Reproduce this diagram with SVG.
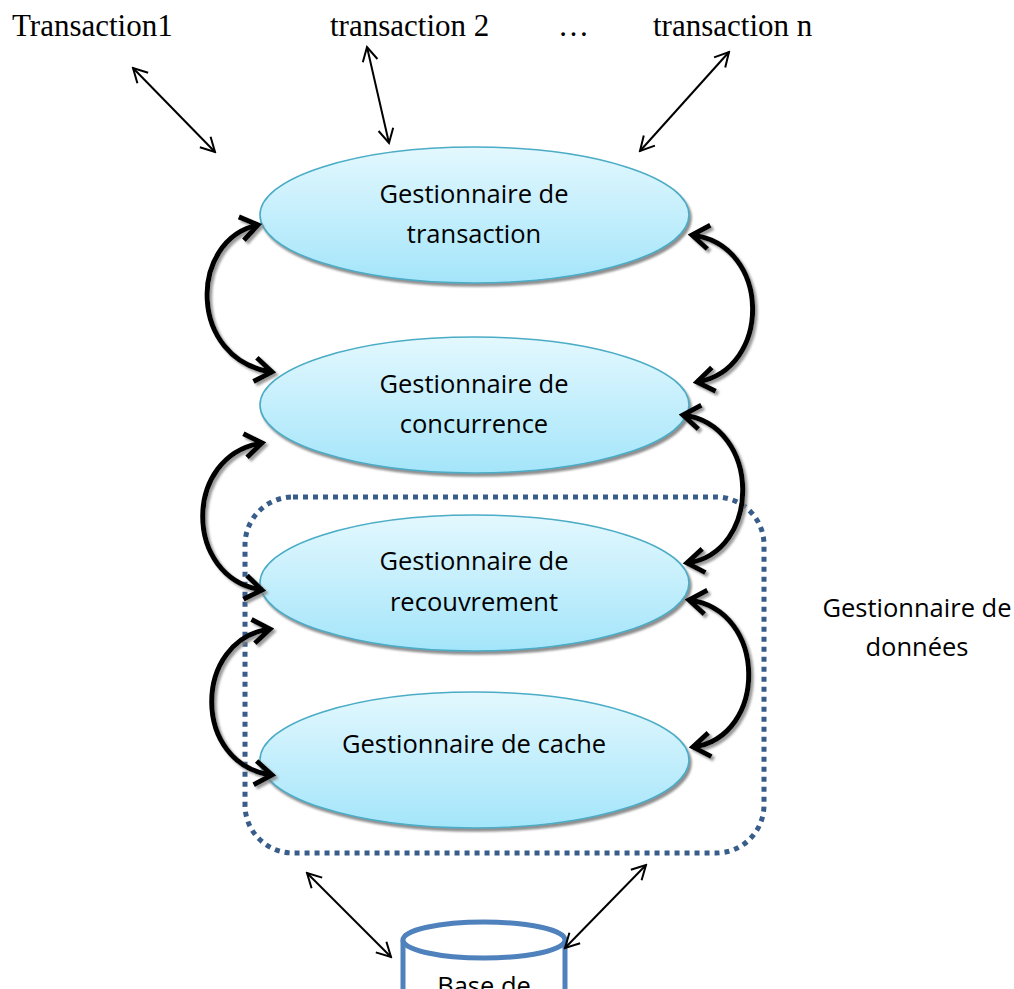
<svg xmlns="http://www.w3.org/2000/svg" width="1014" height="989" viewBox="0 0 1014 989">
  <style>
    .serif { font-family: "Liberation Serif", "Times New Roman", serif; font-size: 31px; fill: #000; }
    .label { font-family: "Open Sans", "Noto Sans", sans-serif; font-size: 25.5px; fill: #000; text-anchor: middle; }
    .node { fill: url(#nodeFill); stroke: #4bacc6; stroke-width: 1.6; filter: url(#nodeShadow); }
    .thin { fill: none; stroke: #000; stroke-width: 2; marker-start: url(#openHead); marker-end: url(#openHead); }
    .thick { fill: none; stroke: #000; stroke-width: 5; marker-start: url(#boldHead); marker-end: url(#boldHead); }
    .group-box { fill: none; stroke: #385d8a; stroke-width: 5; stroke-dasharray: 5 5; }
    .db { fill: #fff; stroke: #4f81bd; stroke-width: 5; }
  </style>
  <defs>
    <linearGradient id="nodeFill" x1="0" y1="0" x2="0" y2="1">
      <stop offset="0" stop-color="#e3f8fe"/>
      <stop offset="1" stop-color="#a4e5fa"/>
    </linearGradient>
    <filter id="nodeShadow" x="-5%" y="-10%" width="112%" height="125%">
      <feDropShadow dx="2" dy="3" stdDeviation="1" flood-color="#7a7a7a" flood-opacity="0.85"/>
    </filter>
    <filter id="arrowShadow" x="-20%" y="-20%" width="150%" height="150%">
      <feDropShadow dx="2.5" dy="2.5" stdDeviation="1" flood-color="#808080" flood-opacity="0.8"/>
    </filter>
    <marker id="openHead" viewBox="-18 -10 20 20" refX="0" refY="0" markerWidth="20" markerHeight="20" markerUnits="userSpaceOnUse" orient="auto-start-reverse">
      <path d="M-14,-7.5 L0,0 L-14,7.5" fill="none" stroke="#000" stroke-width="2"/>
    </marker>
    <marker id="boldHead" viewBox="-24 -16 28 32" refX="0" refY="0" markerWidth="28" markerHeight="32" markerUnits="userSpaceOnUse" orient="auto-start-reverse">
      <path d="M-17,-12 L0,0 L-17,12" fill="none" stroke="#000" stroke-width="5" stroke-linejoin="miter"/>
    </marker>
  </defs>

  <!-- transaction labels -->
  <g id="transactions">
    <text class="serif" x="12" y="36">Transaction1</text>
    <text class="serif" x="330" y="36">transaction 2</text>
    <text class="serif" x="558" y="36">…</text>
    <text class="serif" x="653" y="36">transaction n</text>
  </g>

  <!-- data manager boundary -->
  <g id="data-manager">
    <rect class="group-box" x="245" y="497" width="519" height="356" rx="48" ry="48"/>
    <text class="label" x="917" y="617">Gestionnaire de</text>
    <text class="label" x="917" y="656">données</text>
  </g>

  <g id="transaction-manager">
    <ellipse class="node" cx="474.5" cy="215" rx="214.5" ry="68"/>
    <text class="label" x="474" y="203">Gestionnaire de</text>
    <text class="label" x="474" y="243">transaction</text>
  </g>

  <g id="concurrency-manager">
    <ellipse class="node" cx="474.5" cy="405" rx="214.5" ry="68"/>
    <text class="label" x="474" y="393">Gestionnaire de</text>
    <text class="label" x="474" y="433">concurrence</text>
  </g>

  <g id="recovery-manager">
    <ellipse class="node" cx="474.5" cy="583" rx="214.5" ry="68"/>
    <text class="label" x="474" y="570">Gestionnaire de</text>
    <text class="label" x="474" y="611">recouvrement</text>
  </g>

  <g id="cache-manager">
    <ellipse class="node" cx="474.5" cy="760" rx="214.5" ry="68"/>
    <text class="label" x="474" y="753">Gestionnaire de cache</text>
  </g>

  <g id="database">
    <path class="db" d="M403,940 L403,1000 L565,1000 L565,940"/>
    <ellipse class="db" cx="484" cy="940" rx="81" ry="18"/>
    <text class="label" x="484" y="995">Base de</text>
  </g>

  <!-- connectors -->
  <g id="connectors">
    <line class="thin" x1="133" y1="68" x2="215" y2="152"/>
    <line class="thin" x1="367" y1="47" x2="389" y2="143"/>
    <line class="thin" x1="729" y1="52" x2="640" y2="151"/>
    <line class="thin" x1="307" y1="873" x2="391" y2="957"/>
    <line class="thin" x1="646" y1="865" x2="565" y2="948"/>
    <g filter="url(#arrowShadow)">
      <path class="thick" d="M258,225 C188,240 188,360 272,372"/>
      <path class="thick" d="M692,235 C772,245 772,370 697,382"/>
      <path class="thick" d="M262,443 C183,455 183,578 262,590"/>
      <path class="thick" d="M683,415 C762,425 762,553 687,563"/>
      <path class="thick" d="M270,629 C192,640 192,765 272,775"/>
      <path class="thick" d="M689,600 C768,610 768,737 693,747"/>
    </g>
  </g>
</svg>
